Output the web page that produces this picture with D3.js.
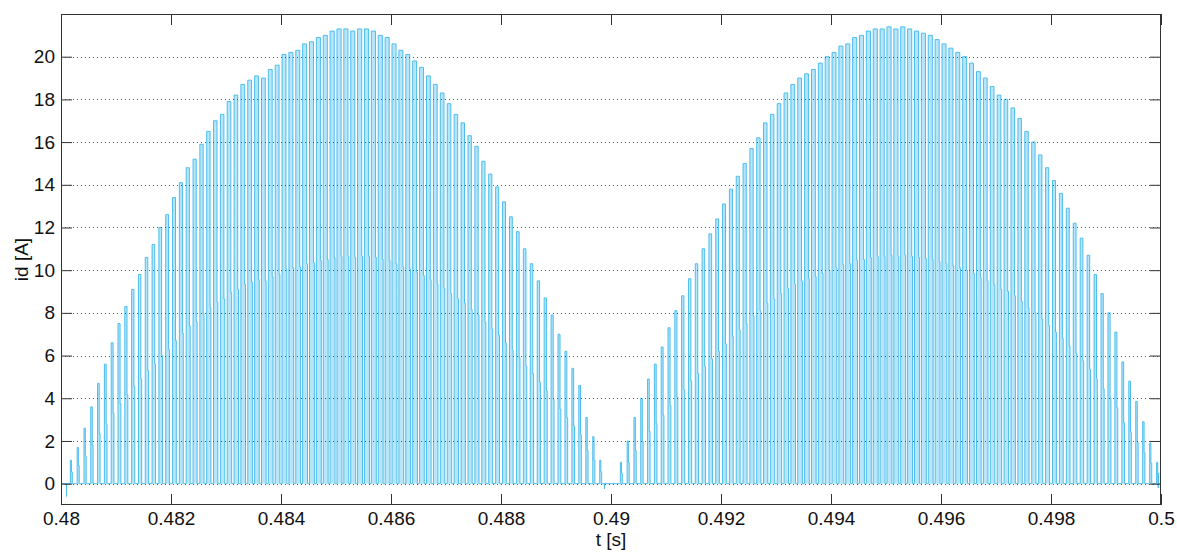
<!DOCTYPE html>
<html>
<head>
<meta charset="utf-8">
<script src="https://cdn.jsdelivr.net/npm/d3@7"></script>
<style>
  html, body { margin: 0; padding: 0; background: #fff; }
  svg { display: block; font-family: "Liberation Sans", Arial, Helvetica, sans-serif; }
</style>
</head>
<body>
<svg id="chart" width="1177" height="553"></svg>
<script>
// ---- data ---------------------------------------------------------------
// DC-link current pulses: one pulse per switching period, peak value of each pulse [A]
const switchingPeriod = 0.000125;          // s
const halfCycleStarts = [0.48, 0.49];      // s

const peaksFirst = [
  0.0, 1.1, 1.7, 2.6, 3.6, 4.7, 5.6, 6.6, 7.5, 8.3,
  9.1, 9.8, 10.6, 11.2, 12.0, 12.6, 13.4, 14.1, 14.8, 15.2,
  15.9, 16.5, 17.0, 17.3, 17.9, 18.2, 18.7, 18.9, 19.1, 19.0,
  19.4, 19.6, 20.1, 20.2, 20.3, 20.6, 20.7, 20.9, 21.0, 21.2,
  21.3, 21.3, 21.2, 21.3, 21.3, 21.2, 21.0, 20.9, 20.6, 20.3,
  20.1, 19.8, 19.5, 19.1, 18.7, 18.3, 17.8, 17.3, 16.9, 16.3,
  15.8, 15.1, 14.5, 13.9, 13.2, 12.5, 11.8, 11.0, 10.3, 9.5,
  8.7, 7.9, 7.0, 6.2, 5.4, 4.6, 3.1, 2.2, 1.1, 0.0
];
const peaksSecond = [
  0.0, 1.0, 2.0, 3.1, 4.0, 4.9, 5.6, 6.4, 7.3, 8.1,
  8.8, 9.6, 10.3, 11.0, 11.7, 12.4, 13.1, 13.8, 14.4, 15.0,
  15.7, 16.2, 16.9, 17.3, 17.8, 18.3, 18.7, 19.0, 19.2, 19.4,
  19.7, 20.0, 20.2, 20.5, 20.6, 20.9, 21.0, 21.2, 21.3, 21.3,
  21.4, 21.3, 21.4, 21.3, 21.2, 21.1, 21.0, 20.8, 20.6, 20.4,
  20.2, 20.0, 19.7, 19.3, 19.0, 18.6, 18.2, 18.0, 17.6, 17.1,
  16.5, 16.0, 15.4, 14.8, 14.2, 13.6, 12.9, 12.2, 11.5, 10.7,
  9.8, 8.9, 8.0, 7.1, 5.7, 4.8, 3.85, 2.9, 1.9, 1.0
];

// short negative spikes at the zero crossings
const dipTimes  = [0.48010, 0.48988, 0.49995];
const dipValues = [-0.6, -0.25, -0.2];

const xTicks = [0.48, 0.482, 0.484, 0.486, 0.488, 0.49, 0.492, 0.494, 0.496, 0.498, 0.5];
const xTickLabels = ["0.48", "0.482", "0.484", "0.486", "0.488", "0.49", "0.492", "0.494", "0.496", "0.498", "0.5"];
const yTicks = [0, 2, 4, 6, 8, 10, 12, 14, 16, 18, 20];
const xLabel = "t [s]";
const yLabel = "id [A]";

// ---- layout -------------------------------------------------------------
const svg = d3.select("#chart");
const plot = { left: 61, top: 14, right: 1161, bottom: 505 };
const x = d3.scaleLinear().domain([0.48, 0.5]).range([plot.left, plot.right]);
const y = d3.scaleLinear().domain([-1, 22]).range([plot.bottom, plot.top]);

const lineColor = "#4DBEEE";
const fillColor = "#4DBEEE";
const axisColor = "#333333";
const textColor = "#111111";
const fontSize = 19;
const tickLen = 11;

// ---- waveform -----------------------------------------------------------
// each pulse: jump to the peak, fall back to a short intermediate step, then to zero
const points = [[0.48, 0]];
function addPulses(start, peaks) {
  peaks.forEach((p, k) => {
    if (p <= 0) return;
    const centre = start + (k + 0.5) * switchingPeriod;
    const on = switchingPeriod * (0.14 + 0.46 * p / 21.3);
    const stepLen = switchingPeriod * 0.12;
    const ts = centre - (on + stepLen) / 2, tm = ts + on, te = tm + stepLen;
    const mid = p * 0.5;
    points.push([ts, 0], [ts, p], [tm, p], [tm, mid], [te, mid], [te, 0]);
  });
}
addPulses(halfCycleStarts[0], peaksFirst);
addPulses(halfCycleStarts[1], peaksSecond);
dipTimes.forEach((t, i) => points.push([t, 0], [t, dipValues[i]], [t, 0]));
points.push([0.5, 0]);
points.sort((a, b) => a[0] - b[0]);

svg.append("clipPath").attr("id", "plotClip")
  .append("rect").attr("x", plot.left).attr("y", plot.top)
  .attr("width", plot.right - plot.left).attr("height", plot.bottom - plot.top);

const line = d3.line().x(d => x(d[0])).y(d => y(d[1]));

// pale body of the pulses
svg.append("path")
  .datum(points)
  .attr("clip-path", "url(#plotClip)")
  .attr("fill", fillColor)
  .attr("fill-opacity", 0.4)
  .attr("stroke", "none")
  .attr("d", line);

// current trace
svg.append("path")
  .datum(points)
  .attr("clip-path", "url(#plotClip)")
  .attr("fill", "none")
  .attr("stroke", lineColor)
  .attr("stroke-width", 1)
  .attr("d", line);

// ---- grid (dotted, horizontal) -----------------------------------------
svg.append("g").selectAll("line").data(yTicks).join("line")
  .attr("x1", plot.left).attr("x2", plot.right)
  .attr("y1", d => Math.round(y(d)) + 0.5).attr("y2", d => Math.round(y(d)) + 0.5)
  .attr("stroke", "#555").attr("stroke-width", 1)
  .attr("stroke-dasharray", "1,3");

// ---- axes ---------------------------------------------------------------
const axBottom = d3.axisBottom(x).tickValues(xTicks)
  .tickFormat((d, i) => xTickLabels[i]).tickSizeInner(-tickLen).tickSizeOuter(0).tickPadding(7);
const axTop = d3.axisTop(x).tickValues(xTicks).tickFormat("").tickSizeInner(-tickLen).tickSizeOuter(0);
const axLeft = d3.axisLeft(y).tickValues(yTicks).tickFormat(d3.format("d"))
  .tickSizeInner(-tickLen).tickSizeOuter(0).tickPadding(6);
const axRight = d3.axisRight(y).tickValues(yTicks).tickFormat("").tickSizeInner(-tickLen).tickSizeOuter(0);

function styleAxis(g) {
  g.attr("font-size", fontSize).attr("font-family", "'Liberation Sans', Arial, sans-serif");
  g.select(".domain").remove();
  g.selectAll(".tick line").attr("stroke", axisColor);
  g.selectAll(".tick text").attr("fill", textColor);
}
svg.append("g").attr("transform", `translate(0,${plot.bottom})`).call(axBottom).call(styleAxis);
svg.append("g").attr("transform", `translate(0,${plot.top})`).call(axTop).call(styleAxis);
svg.append("g").attr("transform", `translate(${plot.left},0)`).call(axLeft).call(styleAxis);
svg.append("g").attr("transform", `translate(${plot.right},0)`).call(axRight).call(styleAxis);

// frame
svg.append("rect")
  .attr("x", plot.left + 0.5).attr("y", plot.top + 0.5)
  .attr("width", plot.right - plot.left - 1).attr("height", plot.bottom - plot.top - 1)
  .attr("fill", "none").attr("stroke", axisColor).attr("stroke-width", 1);

// ---- axis titles --------------------------------------------------------
svg.append("text")
  .attr("x", (plot.left + plot.right) / 2).attr("y", 546)
  .attr("text-anchor", "middle").attr("font-size", fontSize).attr("fill", textColor)
  .text(xLabel);
svg.append("text")
  .attr("transform", `translate(28,${(plot.top + plot.bottom) / 2}) rotate(-90)`)
  .attr("text-anchor", "middle").attr("font-size", fontSize).attr("fill", textColor)
  .text(yLabel);
</script>
</body>
</html>
